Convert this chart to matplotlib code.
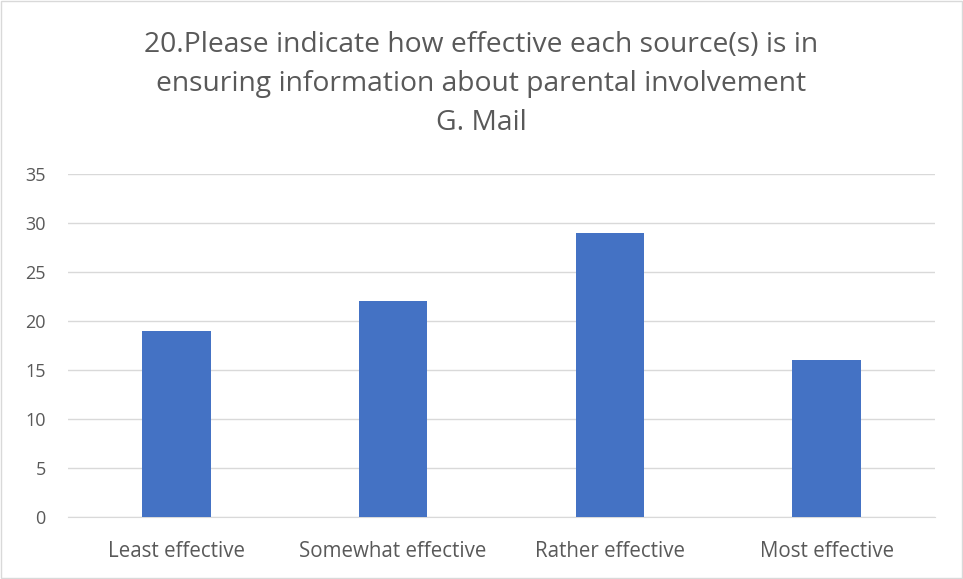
import matplotlib
matplotlib.use("Agg")
import matplotlib.pyplot as plt
from matplotlib.patches import Rectangle

categories = ["Least effective", "Somewhat effective", "Rather effective", "Most effective"]
values = [19, 22, 29, 16]
yticks = [0, 5, 10, 15, 20, 25, 30, 35]
title = "20.Please indicate how effective each source(s) is in\nensuring information about parental involvement\nG. Mail"

plt.rcParams['font.family'] = ['Open Sans', 'DejaVu Sans']
W, H = 963, 579
fig = plt.figure(figsize=(W/100, H/100), dpi=100)
ax = fig.add_axes([68/W, 1-517/H, (935-68)/W, (517-174)/H])

x = range(len(categories))
ax.bar(x, values, width=0.315, color="#4472C4", zorder=3)
ax.set_xlim(-0.5, len(categories)-0.5)
ax.set_ylim(0, 35)
ax.set_yticks(yticks)
ax.set_xticks(list(x))
ax.set_xticklabels(categories)
ax.grid(axis='y', color="#d9d9d9", linewidth=1, zorder=0)
for s in ['top', 'right', 'left']:
    ax.spines[s].set_visible(False)
ax.spines['bottom'].set_color("#d9d9d9")
ax.tick_params(axis='both', length=0, colors="#595959")
ax.tick_params(axis='x', pad=17, labelsize=14.8)
ax.tick_params(axis='y', pad=16, labelsize=13)

fig.text(0.5, 1-84/H, title, ha='center', va='center', fontsize=20.3,
         color="#595959", linespacing=1.5)
fig.patches.append(Rectangle((1/W, 1/H), 1-2/W, 1-2/H, transform=fig.transFigure,
                             fill=False, edgecolor="#d9d9d9", linewidth=1))
fig.savefig("out.png", dpi=100)
